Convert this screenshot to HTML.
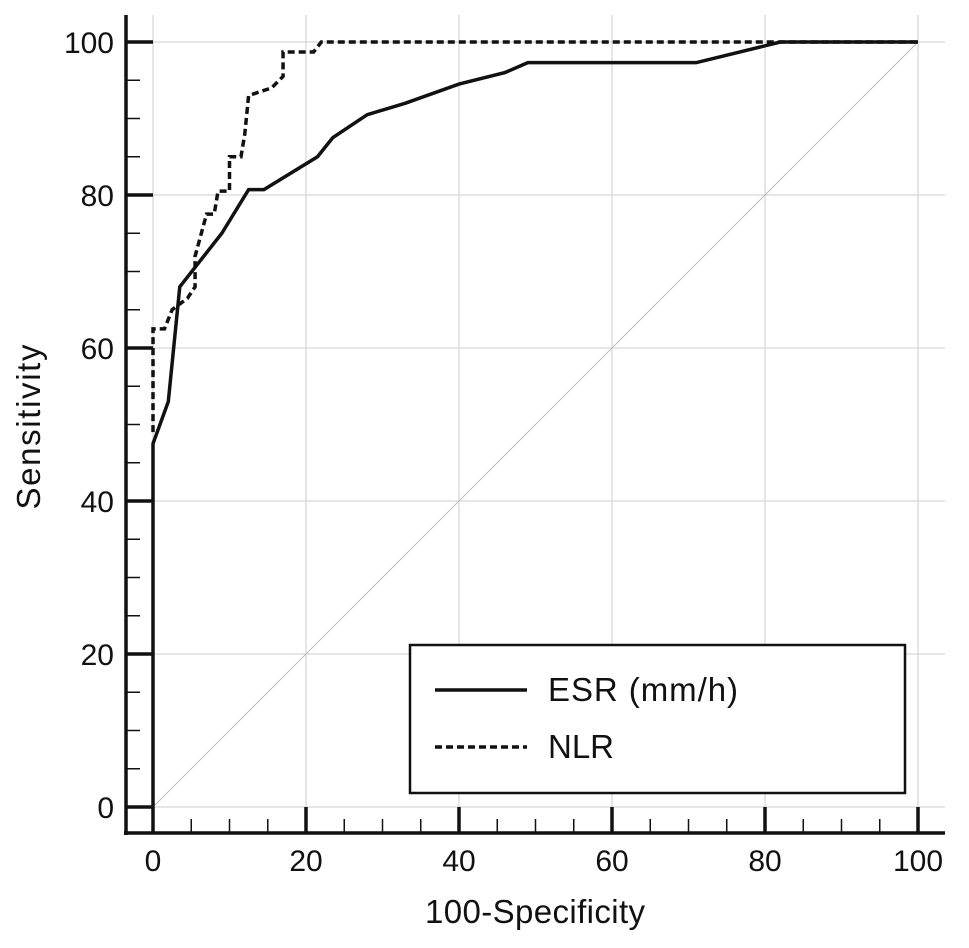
<!DOCTYPE html>
<html><head><meta charset="utf-8"><style>
html,body{margin:0;padding:0;background:#fff;}
svg text{font-family:"Liberation Sans",Arial,sans-serif;fill:#111;}
</style></head><body>
<svg id="chart" width="969" height="943" viewBox="0 0 969 943">
<g id="grid"></g>
<line x1="153" y1="807" x2="918" y2="42" stroke="#bbb" stroke-width="1"/>
<g id="series"></g>
<g id="axes"></g>
<rect x="410" y="645" width="495" height="148" fill="#fff" stroke="#111" stroke-width="2.5"/>
<line x1="435" y1="690" x2="527" y2="690" stroke="#111" stroke-width="3.5"/>
<text x="548" y="701" font-size="33" textLength="190">ESR (mm/h)</text>
<line x1="435" y1="747" x2="527" y2="747" stroke="#111" stroke-width="3.5" stroke-dasharray="7,4"/>
<text x="548" y="758" font-size="33">NLR</text>
<text x="535" y="923" font-size="33" text-anchor="middle" textLength="220">100-Specificity</text>
<text x="0" y="0" font-size="33" text-anchor="middle" textLength="165" transform="translate(40,427) rotate(-90)">Sensitivity</text>
</svg>
<script>
const xTicks=[0,20,40,60,80,100];
const yTicks=[0,20,40,60,80,100];
const esrX=[0,0,2,3.5,9,12.5,14.5,21.5,23.5,28,33,40,46,49,71,80,82,100];
const esrY=[0,47.5,53,68,75,80.7,80.7,85,87.5,90.5,92,94.5,96,97.3,97.3,99.5,100,100];
const nlrX=[0,0,1.5,2.5,4.5,5.5,5.5,7,8,8.5,10,10,11.5,12,12.5,15.5,17,17,19.5,21,22,100];
const nlrY=[49,62.5,62.5,65,66.5,68,72,77.5,77.5,80.5,80.5,85,85,88,93,94,95.5,98.7,98.7,98.7,100,100];
const NS="http://www.w3.org/2000/svg";
const sx=v=>153+v*7.65, sy=v=>807-v*7.65;
const grid=document.getElementById('grid'),axes=document.getElementById('axes'),series=document.getElementById('series');
function mk(tag,attrs,parent){const e=document.createElementNS(NS,tag);for(const k in attrs)e.setAttribute(k,attrs[k]);parent.appendChild(e);return e;}
xTicks.forEach(t=>{const l=mk('line',{x1:sx(t),x2:sx(t),y1:15,y2:833,stroke:'#ddd','stroke-width':1.5},grid);

});
yTicks.forEach(t=>{const l=mk('line',{x1:126,x2:945,y1:sy(t),y2:sy(t),stroke:'#ddd','stroke-width':1.5},grid);

});
const ya=mk('line',{x1:126,x2:126,y1:15,y2:835,stroke:'#111','stroke-width':3.5},axes);


const xa=mk('line',{x1:124,x2:945,y1:833,y2:833,stroke:'#111','stroke-width':3.5},axes);


for(let v=0;v<=100;v+=5){const major=v%20===0;
const a=mk('line',{x1:126,x2:major?153:140,y1:sy(v),y2:sy(v),stroke:'#111','stroke-width':major?3.5:1.5},axes);


const b=mk('line',{x1:sx(v),x2:sx(v),y1:833,y2:major?807:819,stroke:'#111','stroke-width':major?3.5:1.5},axes);

}
yTicks.forEach(t=>{const e=mk('text',{x:114,y:sy(t)+11,'font-size':30,'text-anchor':'end'},axes);e.textContent=t;

});
xTicks.forEach(t=>{const e=mk('text',{x:sx(t),y:871,'font-size':30,'text-anchor':'middle'},axes);e.textContent=t;

});
function path(xs,ys){return xs.map((x,i)=>(i?'L':'M')+sx(x)+','+sy(ys[i])).join(' ');}
const p2=mk('path',{d:path(nlrX,nlrY),fill:'none',stroke:'#111','stroke-width':3.5,'stroke-dasharray':'7,4'},series);


const p1=mk('path',{d:path(esrX,esrY),fill:'none',stroke:'#111','stroke-width':3.5},series);


</script>
</body></html>
